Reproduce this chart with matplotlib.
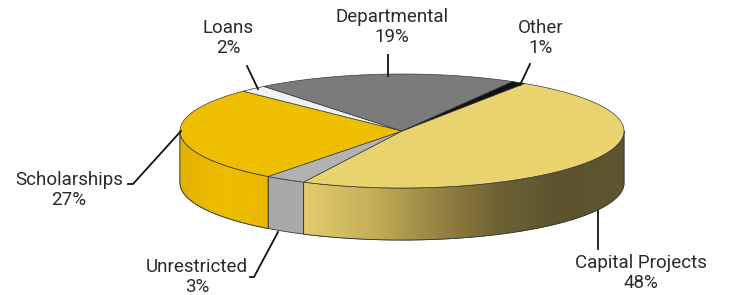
import numpy as np
import matplotlib.pyplot as plt
from matplotlib.patches import Polygon
from matplotlib.colors import LinearSegmentedColormap

# ---- data ----
categories = ["Capital Projects", "Unrestricted", "Scholarships", "Loans", "Departmental", "Other"]
shares = [48, 3, 27, 2, 19, 1]
top_colors = ["#E9D36F", "#B2B2B2", "#EDBF00", "#F2F2F2", "#7B7B7B", "#111111"]
side_colors = ["#D8C266", "#A9A9A9", "#E8B700", "#E0E0E0", "#6A6A6A", "#111111"]

# label text positions (pixels) and leader lines
label_pos = {
    "Capital Projects": (641, 273),
    "Unrestricted": (197, 277),
    "Scholarships": (69, 190),
    "Loans": (228, 38),
    "Departmental": (392, 27),
    "Other": (541, 38),
}
leaders = {
    "Capital Projects": [(598, 249), (598, 211)],
    "Unrestricted": [(250, 277), (254, 277), (278, 232)],
    "Scholarships": [(128, 184), (133, 184), (181, 131)],
    "Loans": [(247, 66), (258, 89)],
    "Departmental": [(388, 55), (388, 76)],
    "Other": [(530, 64), (520, 85)],
}

# ---- geometry of the tilted pie (pixels) ----
cx, cy = 402, 131
a, b = 222, 57
depth = 52
start = 56.5  # degrees, pie goes clockwise

fig = plt.figure(figsize=(7.3, 2.95), dpi=100)
ax = fig.add_axes([0, 0, 1, 1])
ax.axis("off")


def arc(t1, t2, dz=0, n=200):
    ts = np.linspace(t1, t2, n)
    r = np.radians(ts)
    return np.column_stack([cx + a * np.cos(r), cy - b * np.sin(r) + dz])


fracs = np.array(shares) / sum(shares) * 360
cum = np.concatenate([[0], np.cumsum(fracs)])
edge = "#3a3a3a"

# side walls (front half only)
for i, cat in enumerate(categories):
    hi = start - cum[i]
    lo = start - cum[i + 1]
    for k in (-360, 0, 360):
        s0, s1 = max(lo, -180 + k), min(hi, 0 + k)
        if s1 <= s0:
            continue
        top = arc(s0, s1)
        bot = arc(s1, s0, depth)
        shape = np.vstack([top, bot])
        ax.add_patch(Polygon(shape, closed=True, facecolor=side_colors[i],
                             edgecolor=edge, linewidth=0.6, zorder=2))
        if cat in ("Capital Projects", "Scholarships"):
            if cat == "Capital Projects":
                cmap = LinearSegmentedColormap.from_list(
                    "cap", ["#E2CC6C", "#C7B159", "#9A8744", "#6E6335", "#5C532E", "#5E5531"])
            else:
                cmap = LinearSegmentedColormap.from_list("sch", ["#E2B200", "#EDBE00", "#E9B900"])
            grad = np.linspace(0, 1, 256).reshape(1, -1)
            im = ax.imshow(grad, cmap=cmap, aspect="auto",
                           extent=[shape[:, 0].min(), shape[:, 0].max(),
                                   shape[:, 1].max(), shape[:, 1].min()], zorder=2.5)
            im.set_clip_path(Polygon(shape, closed=True, transform=ax.transData))
            ax.add_patch(Polygon(shape, closed=True, fill=False,
                                 edgecolor=edge, linewidth=0.6, zorder=2.6))

# top surface
for i, cat in enumerate(categories):
    hi = start - cum[i]
    lo = start - cum[i + 1]
    pts = np.vstack([[cx, cy], arc(hi, lo)])
    ax.add_patch(Polygon(pts, closed=True, facecolor=top_colors[i],
                         edgecolor=edge, linewidth=0.5, zorder=3))

ax.set_xlim(0, 730)
ax.set_ylim(295, 0)

# labels
for i, cat in enumerate(categories):
    x, y = label_pos[cat]
    ax.text(x, y, f"{cat}\n{shares[i]}%", ha="center", va="center", fontsize=13.5,
            family="Roboto", color="#2a2a2a", linespacing=1.2, zorder=5)
    lx, ly = zip(*leaders[cat])
    ax.plot(lx, ly, color="#111111", linewidth=1.3, zorder=4)

fig.savefig("out.png", dpi=100)
